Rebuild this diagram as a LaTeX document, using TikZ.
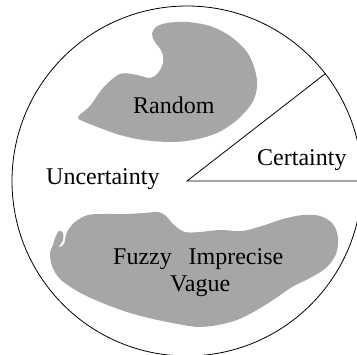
\documentclass[tikz,border=0pt]{standalone}
\usepackage{fontspec}
\setmainfont{Liberation Serif}
\usetikzlibrary{positioning}
\tikzset{
  blob/.style = {fill=black!35, draw=none},
  rim/.style = {draw=black, line width=0.8pt},
  lbl/.style = {font=\fontsize{24}{27}\selectfont, text=black,
    inner sep=0pt, anchor=base west}
}

\begin{document}
\begin{tikzpicture}[x=1pt, y=-1pt]
  \useasboundingbox (0,0) rectangle (357,355);
  \clip (0,0) rectangle (357,355);
  \fill [white] (0,0) rectangle (357,355);
  % the whole circle and the certain wedge
  \coordinate (ctr) at (187,181);
  \coordinate (tip) at (325.3,73.7);
  \coordinate (rt) at (363,181);
  \draw [rim] (ctr) circle [radius=175];
  \draw [rim] (tip) -- (ctr) -- (rt);
  % random patch
  \fill [blob] plot [smooth cycle, tension=0.55] coordinates {
    (78,117) (90,106) (103,88) (120,74) (137,75) (150,78) (158,73)
    (163,63) (162,52) (155,42) (152,34) (156,27) (167,23) (187,22)
    (210,26) (230,36) (247,52) (255,70) (257,87) (252,103) (237,120)
    (217,133) (193,140) (170,142) (143,140) (120,135) (100,128) (85,122)};
  % fuzzy patch
  \fill [blob] plot [smooth cycle, tension=0.55] coordinates {
    (64,244) (67,232) (75,222) (88,215) (105,214) (125,214) (145,213)
    (158,212) (166,216) (174,225) (185,232) (200,232) (220,230)
    (242,231) (262,226) (283,219) (303,215) (320,216) (333,224)
    (338,238) (336,254) (326,268) (310,278) (292,287) (276,298)
    (257,310) (237,320) (218,325) (198,327) (178,324) (153,319)
    (127,312) (100,302) (77,291) (60,279) (52,266) (50,253) (53,245)
    (55,238) (59,231) (63,233) (63,240) (59,247)};
  \node [lbl] (random) at (133,114) {Random};
  \node [lbl] (uncert) at (46,184.5) {Uncertainty};
  \node [lbl] (cert) at (257,166) {Certainty};
  \node [lbl] (fuzzy) at (113,264.5) {Fuzzy\hspace{0.7em}Imprecise};
  \node [lbl] (vague) at (170,292) {Vague};
\end{tikzpicture}
\end{document}
